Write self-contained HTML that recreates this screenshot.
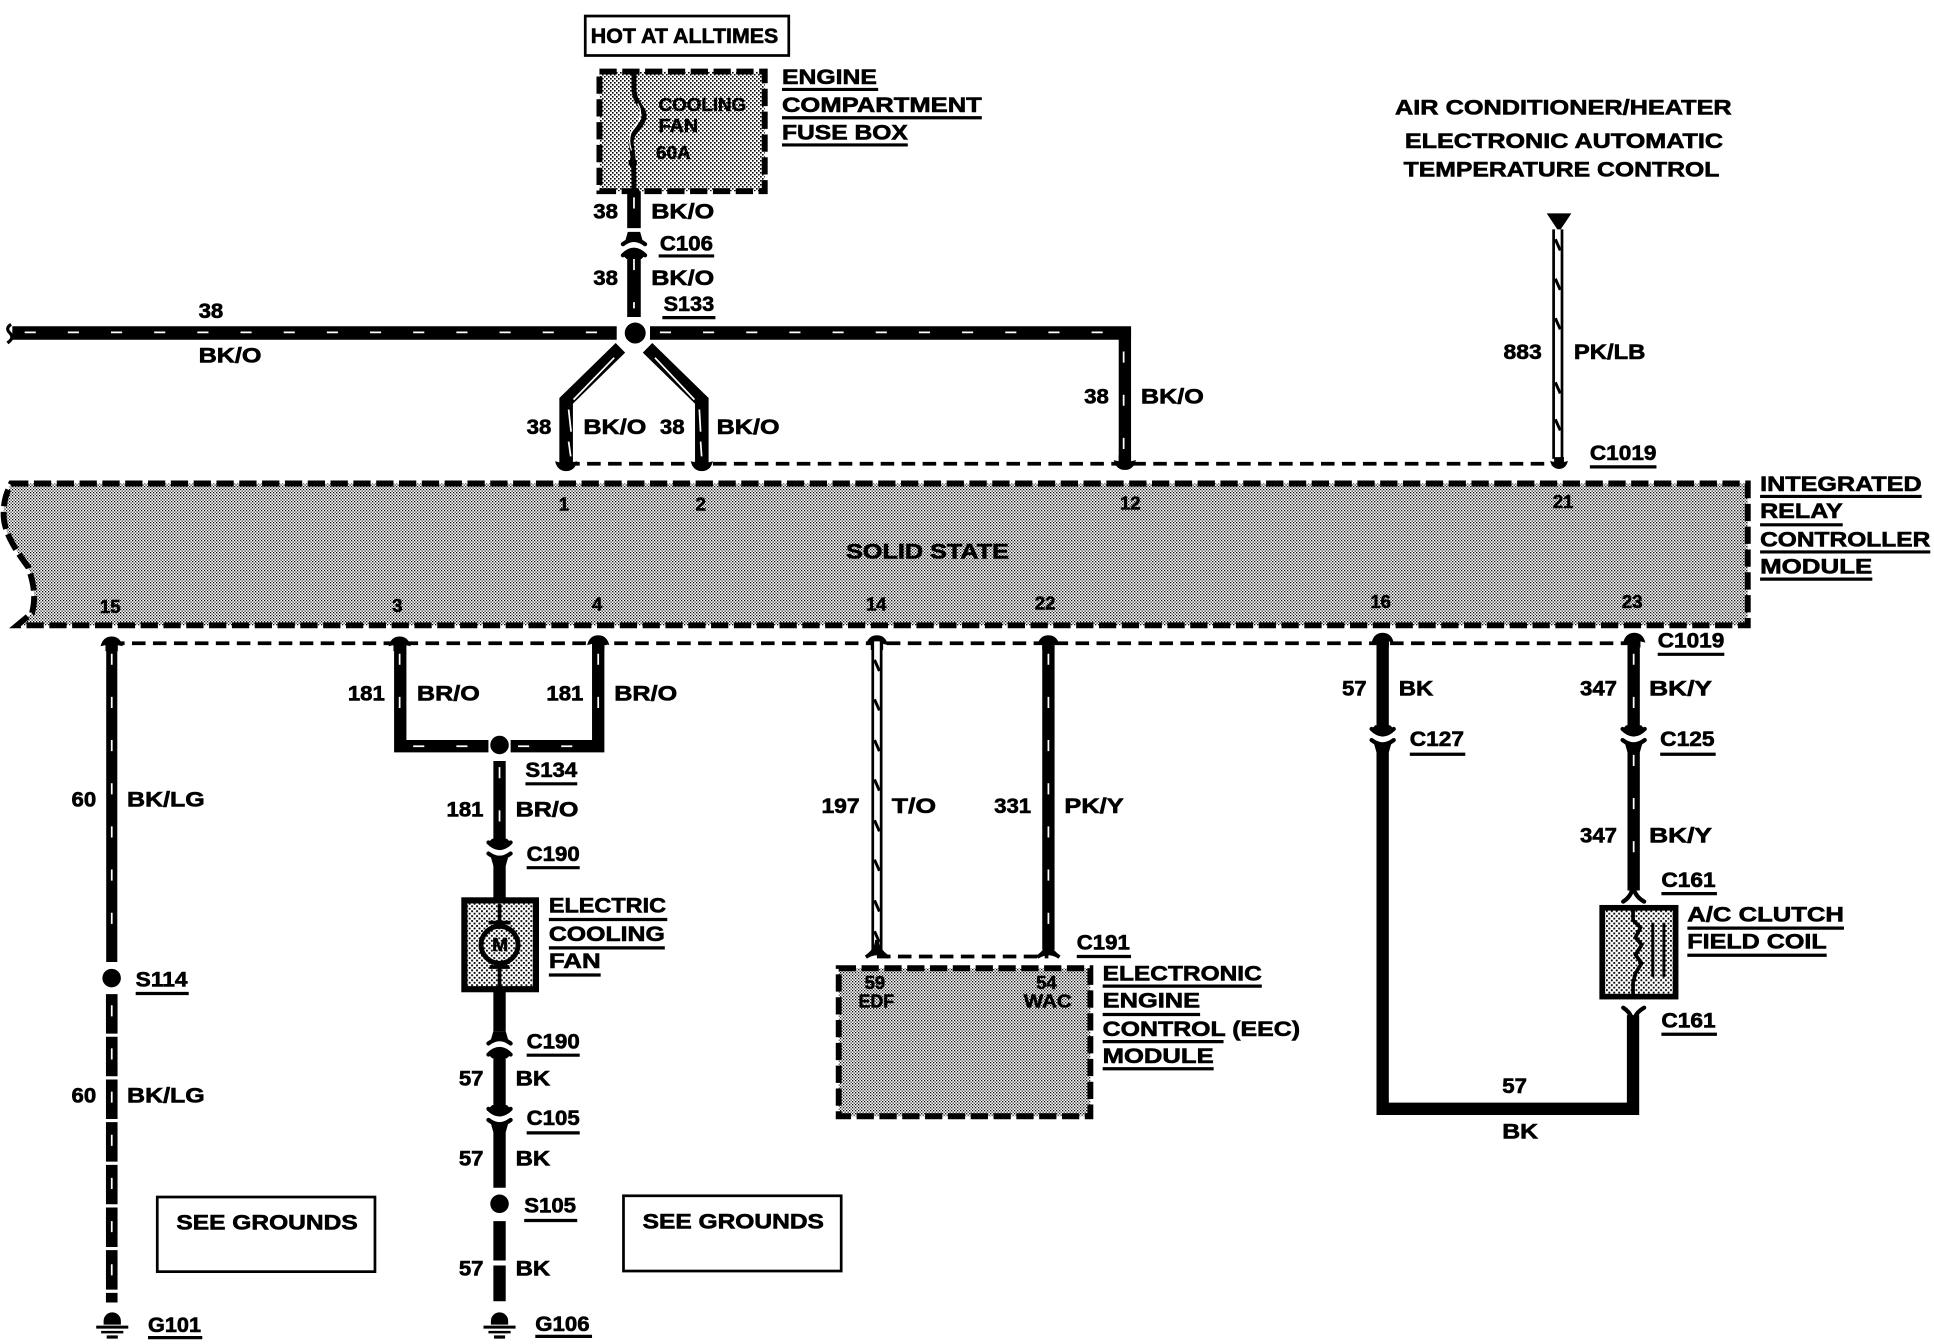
<!DOCTYPE html>
<html lang="en"><head><meta charset="utf-8"><title>Wiring diagram</title>
<style>
html,body{margin:0;padding:0;background:#fff}
svg{display:block}
text{font-family:"Liberation Sans",sans-serif;font-weight:700;fill:#000;stroke:#000;stroke-width:.5;font-size:17px}
.s{font-size:15px;stroke-width:.45}
.w{fill:none;stroke:#000;stroke-width:10}
.d{fill:none;stroke:#fff;stroke-width:1.4;stroke-dasharray:9 26}
.u{fill:none;stroke:#000;stroke-width:2.6}
.t{fill:none;stroke:#000;stroke-width:3;stroke-dasharray:11 6}
.b{stroke:#000;stroke-width:4.8;stroke-dasharray:14 4.5}
</style></head><body>
<svg xmlns="http://www.w3.org/2000/svg" width="1934" height="1344" viewBox="0 0 1568 1089.66">
<defs>
<pattern id="p1" width="2.4324" height="2.4324" patternUnits="userSpaceOnUse"><rect width="2.4324" height="2.4324" fill="#fff"/><rect width="1" height="1"/><rect x="1.2162" y="1.2162" width="1" height="1"/></pattern>
<pattern id="p2" width="3.243" height="3.243" patternUnits="userSpaceOnUse"><rect width="3.243" height="3.243" fill="#fff"/><rect width="1.3" height="1.3"/><rect x="1.62" y="1.62" width="1.3" height="1.3"/></pattern>
<pattern id="p3" width="4" height="4" patternUnits="userSpaceOnUse"><rect width="4" height="4" fill="#fff"/><rect width="1.5" height="1.5"/><rect x="2" y="2" width="1.5" height="1.5"/></pattern>
<g id="cd"><path d="M-9,-9Q0,0 9,-9L6,-12H-6Z"/><path d="M-9,-9Q0,0 9,-9" fill="none" stroke="#000" stroke-width="3.4" stroke-linecap="round"/><path d="M-9,0Q0,7 9,0" fill="none" stroke="#000" stroke-width="3.4" stroke-linecap="round"/><path d="M-7,3Q0,7 7,3L5,10H-5Z"/></g>
<g id="cu"><use href="#cd" transform="scale(1,-1)"/></g>
<path id="ma" d="M-9,4Q-7,-4 0,-4Q7,-4 9,4L5,3V8H-5V3Z"/>
<g id="gnd"><path d="M-7,7V4A7,7 0 0 1 7,4V7Z"/><path d="M-13,9H13" stroke="#000" stroke-width="2.4"/><path d="M-9,13H9" stroke="#000" stroke-width="2"/><path d="M-4.5,17H4.5" stroke="#000" stroke-width="2.6"/></g>
</defs>
<rect width="1568" height="1089.66" fill="#fff"/>

<!-- top -->
<rect x="474.5" y="13" width="165" height="32" fill="#fff" stroke="#000" stroke-width="2.2"/>
<text x="479" y="35" textLength="152" lengthAdjust="spacingAndGlyphs">HOT AT ALLTIMES</text>
<rect x="486" y="58" width="134" height="97" fill="url(#p2)" class="b"/>
<path d="M514,58V72C514,84 524,88 522,96C520,104 510,108 512,118C513,126 514,128 514,155" fill="none" stroke="#000" stroke-width="4"/>
<path d="M517,84C522,92 518,100 512,106C510,112 510,116 512,122" fill="none" stroke="#fff" stroke-width="1"/>
<circle cx="513" cy="132" r="3.4"/>
<text class="s" x="534" y="90" textLength="71" lengthAdjust="spacingAndGlyphs">COOLING</text>
<text class="s" x="534" y="107" textLength="32" lengthAdjust="spacingAndGlyphs">FAN</text>
<text class="s" x="532" y="129" textLength="28" lengthAdjust="spacingAndGlyphs">60A</text>
<g>
<text x="634" y="68" textLength="77" lengthAdjust="spacingAndGlyphs">ENGINE</text>
<text x="634" y="91" textLength="162" lengthAdjust="spacingAndGlyphs">COMPARTMENT</text>
<text x="634" y="113" textLength="102" lengthAdjust="spacingAndGlyphs">FUSE BOX</text>
<text x="481" y="177" textLength="20" lengthAdjust="spacingAndGlyphs">38</text>
<text x="528" y="177" textLength="51" lengthAdjust="spacingAndGlyphs">BK/O</text>
<text x="535" y="203" textLength="43" lengthAdjust="spacingAndGlyphs">C106</text>
<text x="481" y="231" textLength="20" lengthAdjust="spacingAndGlyphs">38</text>
<text x="528" y="231" textLength="51" lengthAdjust="spacingAndGlyphs">BK/O</text>
<text x="538" y="252" textLength="41" lengthAdjust="spacingAndGlyphs">S133</text>
<text x="161" y="258" textLength="20" lengthAdjust="spacingAndGlyphs">38</text>
<text x="161" y="294" textLength="51" lengthAdjust="spacingAndGlyphs">BK/O</text>
<text x="427" y="352" textLength="20" lengthAdjust="spacingAndGlyphs">38</text>
<text x="473" y="352" textLength="51" lengthAdjust="spacingAndGlyphs">BK/O</text>
<text x="535" y="352" textLength="20" lengthAdjust="spacingAndGlyphs">38</text>
<text x="581" y="352" textLength="51" lengthAdjust="spacingAndGlyphs">BK/O</text>
<text x="879" y="327" textLength="20" lengthAdjust="spacingAndGlyphs">38</text>
<text x="925" y="327" textLength="51" lengthAdjust="spacingAndGlyphs">BK/O</text>
<text x="1131" y="93" textLength="273" lengthAdjust="spacingAndGlyphs">AIR CONDITIONER/HEATER</text>
<text x="1139" y="120" textLength="258" lengthAdjust="spacingAndGlyphs">ELECTRONIC AUTOMATIC</text>
<text x="1138" y="143" textLength="256" lengthAdjust="spacingAndGlyphs">TEMPERATURE CONTROL</text>
<text x="1219" y="291" textLength="31" lengthAdjust="spacingAndGlyphs">883</text>
<text x="1276" y="291" textLength="58" lengthAdjust="spacingAndGlyphs">PK/LB</text>
<text x="1289" y="373" textLength="54" lengthAdjust="spacingAndGlyphs">C1019</text>
</g>
<!-- wires top -->
<path class="w" style="stroke-width:11" d="M514,155V185M514,205V257"/>
<path class="d" d="M514,160V190M514,210V250"/>
<use href="#cu" x="514" y="198"/>
<path d="M9,263Q4,266 8,270Q12,274 6,278" fill="none" stroke="#000" stroke-width="2.6"/>
<path class="w" style="stroke-width:11" d="M10,270H500M527,270H917"/>
<path class="w" d="M912,265V375"/>
<path class="d" d="M20,269.5H500M535,269.5H905"/>
<path class="d" d="M911,285V372"/>
<circle cx="515" cy="270" r="8.5"/>
<path class="w" style="stroke-width:11" d="M503,282L459,325V375"/><path class="w" style="stroke-width:11" d="M525,282L569,325V375"/>
<path fill="none" stroke="#fff" stroke-width="1.4" d="M498,290L465,324M531,290L563,324M461,332L463,350M461,358L463,372M567,332L568,350M568,358L569,372"/>
<path class="t" d="M459,376H1263"/>
<use href="#ma" transform="translate(459,378) scale(1,-1)"/>
<use href="#ma" transform="translate(569,378) scale(1,-1)"/>
<use href="#ma" transform="translate(912,377) scale(1,-1)"/>
<path d="M1254,173H1274L1264,188Z"/>
<path d="M1263,186V372" fill="none" stroke="#000" stroke-width="9"/>
<path d="M1263,186V372" fill="none" stroke="#fff" stroke-width="4.6"/>
<path d="M1261,194L1265,203M1261,226L1265,235M1261,258L1265,267M1261,310L1265,319M1261,340L1265,349" stroke="#000" stroke-width="2.4"/>
<use href="#ma" transform="translate(1264,377) scale(.8,-.8)"/>

<!-- band -->
<path d="M9,392H1417V507H14L26,497C29,485 28,475 23,460C12,445 2,430 3,415C3,405 6,398 9,392Z" fill="url(#p1)" class="b"/>
<text class="s" x="453" y="414">1</text><text class="s" x="564" y="414">2</text><text class="s" x="908" y="413">12</text><text class="s" x="1259" y="412">21</text>
<text x="686" y="453" textLength="132" lengthAdjust="spacingAndGlyphs">SOLID STATE</text>
<text class="s" x="81" y="497">15</text><text class="s" x="318" y="496">3</text><text class="s" x="480" y="495">4</text><text class="s" x="702" y="495">14</text><text class="s" x="839" y="494">22</text><text class="s" x="1111" y="493">16</text><text class="s" x="1315" y="493">23</text>
<text x="1427" y="398" textLength="131" lengthAdjust="spacingAndGlyphs">INTEGRATED</text>
<text x="1427" y="420" textLength="67" lengthAdjust="spacingAndGlyphs">RELAY</text>
<text x="1427" y="443" textLength="138" lengthAdjust="spacingAndGlyphs">CONTROLLER</text>
<text x="1427" y="465" textLength="91" lengthAdjust="spacingAndGlyphs">MODULE</text>

<!-- lower wires -->
<path class="t" d="M90,521.5H1325"/>
<use href="#ma" x="90.5" y="520"/><use href="#ma" x="324" y="520"/><use href="#ma" x="485" y="519"/><use href="#ma" x="711" y="519"/><use href="#ma" x="850" y="519"/><use href="#ma" x="1121" y="517"/><use href="#ma" x="1325" y="517"/>
<!-- 60 -->
<path d="M90.6,522V780" fill="none" stroke="#000" stroke-width="9"/>
<path d="M90.6,806V1056" fill="none" stroke="#000" stroke-width="9.4" stroke-dasharray="32 2.6"/>
<path class="d" d="M90.6,530V775M90.6,815V1050"/>
<circle cx="90.5" cy="793" r="7.5"/>
<use href="#gnd" x="91" y="1067"/>
<!-- 181 -->
<path class="w" d="M324.5,520V605H396M414,605H485V520"/>
<path class="d" d="M324,530V595M485,530V595M335,605H390M420,605H475"/>
<circle cx="405" cy="604" r="7.5"/>
<path class="w" d="M405,617V682M405,700V729M405,802V836M405,856V898M405,912V963M405,990V1022M405,1026V1055"/>
<path class="d" d="M405,622V680"/>
<use href="#cd" x="405" y="692"/>
<use href="#cu" x="405" y="846"/>
<use href="#cd" x="405" y="908"/>
<circle cx="405" cy="976" r="7.5"/>
<use href="#gnd" x="405" y="1067"/>
<rect x="376.5" y="730" width="58" height="72" fill="url(#p3)" stroke="#000" stroke-width="5"/>
<path d="M405,733V748M405,785V800" stroke="#000" stroke-width="3"/>
<circle cx="405" cy="766" r="15" fill="url(#p3)" stroke="#000" stroke-width="4"/>
<path d="M396,748H414M397,784H413" stroke="#000" stroke-width="3"/>
<text class="s" x="399" y="771" textLength="13" lengthAdjust="spacingAndGlyphs">M</text>
<!-- 197 / 331 -->
<path d="M711,520V772" fill="none" stroke="#000" stroke-width="9"/>
<path d="M711,520V772" fill="none" stroke="#fff" stroke-width="4.6"/>
<path d="M709,535L713,544M709,567L713,576M709,600L713,609M709,632L713,641M709,665L713,674M709,697L713,706M709,730L713,739M709,755L713,764" stroke="#000" stroke-width="2.4"/>
<path class="w" d="M850,520V770"/>
<path class="d" d="M850,530V765"/>
<path class="t" d="M711,775.5H850"/>
<path d="M702,776Q711,770 711,762Q711,770 720,776Q711,770 702,776Z" stroke="#000" stroke-width="3"/>
<path d="M841,776Q850,770 850,762Q850,770 859,776Q850,770 841,776Z" stroke="#000" stroke-width="3"/>
<rect x="680" y="785" width="204" height="120" fill="url(#p1)" class="b"/>
<text class="s" x="701" y="802">59</text><text class="s" x="696" y="817" textLength="29" lengthAdjust="spacingAndGlyphs">EDF</text>
<text class="s" x="840" y="802">54</text><text class="s" x="830" y="817" textLength="39" lengthAdjust="spacingAndGlyphs">WAC</text>
<!-- 57 / 347 -->
<path class="w" d="M1121,520V592M1121,606V899H1324V823"/>
<use href="#cd" x="1121" y="600"/>
<path class="w" d="M1324.5,520V592M1324.5,606V722"/>
<path class="d" d="M1324.5,530V590M1324.5,612V718"/>
<use href="#cd" x="1324.5" y="600"/>
<path d="M1316,731Q1324,726 1324,716Q1324,726 1333,731" fill="none" stroke="#000" stroke-width="3.4" stroke-linecap="round"/>
<path d="M1316,817Q1324,822 1324,832Q1324,822 1333,817" fill="none" stroke="#000" stroke-width="3.4" stroke-linecap="round"/>
<rect x="1299" y="736" width="59.5" height="72" fill="url(#p3)" stroke="#000" stroke-width="4.6"/>
<path d="M1324,738V746L1330,752L1326,760L1331,766L1326,774L1331,781L1326,789L1324,797V806" fill="none" stroke="#000" stroke-width="3"/>
<path d="M1340,748V792M1349,748V792" stroke="#000" stroke-width="2.4"/>
<!-- labels lower -->
<g>
<text x="58" y="654" textLength="20" lengthAdjust="spacingAndGlyphs">60</text>
<text x="103" y="654" textLength="63" lengthAdjust="spacingAndGlyphs">BK/LG</text>
<text x="110" y="800" textLength="42" lengthAdjust="spacingAndGlyphs">S114</text>
<text x="58" y="894" textLength="20" lengthAdjust="spacingAndGlyphs">60</text>
<text x="103" y="894" textLength="63" lengthAdjust="spacingAndGlyphs">BK/LG</text>
<text x="120" y="1080" textLength="43" lengthAdjust="spacingAndGlyphs">G101</text>
<text x="282" y="568" textLength="30" lengthAdjust="spacingAndGlyphs">181</text>
<text x="338" y="568" textLength="51" lengthAdjust="spacingAndGlyphs">BR/O</text>
<text x="443" y="568" textLength="30" lengthAdjust="spacingAndGlyphs">181</text>
<text x="498" y="568" textLength="51" lengthAdjust="spacingAndGlyphs">BR/O</text>
<text x="426" y="630" textLength="42" lengthAdjust="spacingAndGlyphs">S134</text>
<text x="362" y="662" textLength="30" lengthAdjust="spacingAndGlyphs">181</text>
<text x="418" y="662" textLength="51" lengthAdjust="spacingAndGlyphs">BR/O</text>
<text x="427" y="698" textLength="43" lengthAdjust="spacingAndGlyphs">C190</text>
<text x="445" y="740" textLength="95" lengthAdjust="spacingAndGlyphs">ELECTRIC</text>
<text x="445" y="763" textLength="94" lengthAdjust="spacingAndGlyphs">COOLING</text>
<text x="445" y="785" textLength="42" lengthAdjust="spacingAndGlyphs">FAN</text>
<text x="427" y="850" textLength="43" lengthAdjust="spacingAndGlyphs">C190</text>
<text x="372" y="880" textLength="20" lengthAdjust="spacingAndGlyphs">57</text>
<text x="418" y="880" textLength="28" lengthAdjust="spacingAndGlyphs">BK</text>
<text x="427" y="912" textLength="43" lengthAdjust="spacingAndGlyphs">C105</text>
<text x="372" y="945" textLength="20" lengthAdjust="spacingAndGlyphs">57</text>
<text x="418" y="945" textLength="28" lengthAdjust="spacingAndGlyphs">BK</text>
<text x="425" y="983" textLength="42" lengthAdjust="spacingAndGlyphs">S105</text>
<text x="372" y="1034" textLength="20" lengthAdjust="spacingAndGlyphs">57</text>
<text x="418" y="1034" textLength="28" lengthAdjust="spacingAndGlyphs">BK</text>
<text x="434" y="1079" textLength="44" lengthAdjust="spacingAndGlyphs">G106</text>
<text x="143" y="997" textLength="147" lengthAdjust="spacingAndGlyphs">SEE GROUNDS</text>
<text x="521" y="996" textLength="147" lengthAdjust="spacingAndGlyphs">SEE GROUNDS</text>
<text x="666" y="659" textLength="31" lengthAdjust="spacingAndGlyphs">197</text>
<text x="723" y="659" textLength="36" lengthAdjust="spacingAndGlyphs">T/O</text>
<text x="806" y="659" textLength="30" lengthAdjust="spacingAndGlyphs">331</text>
<text x="863" y="659" textLength="48" lengthAdjust="spacingAndGlyphs">PK/Y</text>
<text x="873" y="770" textLength="43" lengthAdjust="spacingAndGlyphs">C191</text>
<text x="894" y="795" textLength="129" lengthAdjust="spacingAndGlyphs">ELECTRONIC</text>
<text x="894" y="817" textLength="79" lengthAdjust="spacingAndGlyphs">ENGINE</text>
<text x="894" y="840" textLength="160" lengthAdjust="spacingAndGlyphs">CONTROL (EEC)</text>
<text x="894" y="862" textLength="90" lengthAdjust="spacingAndGlyphs">MODULE</text>
<text x="1344" y="525" textLength="54" lengthAdjust="spacingAndGlyphs">C1019</text>
<text x="1088" y="564" textLength="20" lengthAdjust="spacingAndGlyphs">57</text>
<text x="1134" y="564" textLength="28" lengthAdjust="spacingAndGlyphs">BK</text>
<text x="1281" y="564" textLength="30" lengthAdjust="spacingAndGlyphs">347</text>
<text x="1337" y="564" textLength="51" lengthAdjust="spacingAndGlyphs">BK/Y</text>
<text x="1143" y="605" textLength="44" lengthAdjust="spacingAndGlyphs">C127</text>
<text x="1346" y="605" textLength="44" lengthAdjust="spacingAndGlyphs">C125</text>
<text x="1281" y="683" textLength="30" lengthAdjust="spacingAndGlyphs">347</text>
<text x="1337" y="683" textLength="51" lengthAdjust="spacingAndGlyphs">BK/Y</text>
<text x="1347" y="719" textLength="44" lengthAdjust="spacingAndGlyphs">C161</text>
<text x="1368" y="747" textLength="127" lengthAdjust="spacingAndGlyphs">A/C CLUTCH</text>
<text x="1368" y="769" textLength="113" lengthAdjust="spacingAndGlyphs">FIELD COIL</text>
<text x="1347" y="833" textLength="44" lengthAdjust="spacingAndGlyphs">C161</text>
<text x="1218" y="886" textLength="20" lengthAdjust="spacingAndGlyphs">57</text>
<text x="1218" y="923" textLength="29" lengthAdjust="spacingAndGlyphs">BK</text>
</g>
<rect x="127.5" y="970.5" width="176.5" height="60.5" fill="none" stroke="#000" stroke-width="2.2"/>
<rect x="505.5" y="969.5" width="176.5" height="61" fill="none" stroke="#000" stroke-width="2.2"/>
<!-- underlines -->
<path class="u" d="M634,72.5H712M634,95.5H796M634,117.5H736M534,207.5H579M537,257.5H580M1289,378.5H1343M1427,402.5H1558M1427,425.5H1494M1427,447.5H1565M1427,469.5H1518M110,805.5H153M120,1084.5H164M426,635.5H468M427,703.5H470M445,745.5H541M445,768.5H539M445,790.5H487M427,855.5H470M427,918.5H470M425,989.5H468M434,1083.5H480M873,775.5H917M894,799.5H1023M894,822.5H973M894,844.5H992M894,866.5H984M1344,530.5H1398M1143,611.5H1188M1346,611.5H1391M1347,724.5H1392M1368,752.5H1495M1368,774.5H1481M1347,838.5H1392"/>
</svg>
</body></html>
